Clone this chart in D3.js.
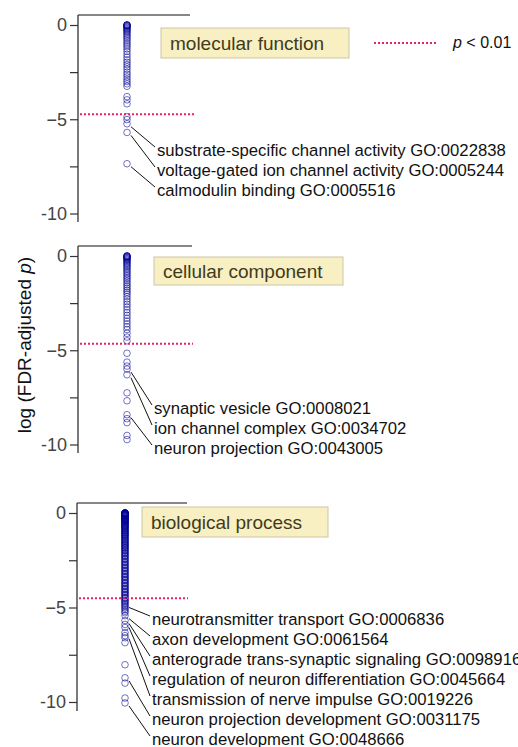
<!DOCTYPE html>
<html><head><meta charset="utf-8">
<script src="https://cdn.jsdelivr.net/npm/d3@7"></script>
<style>
html,body{margin:0;padding:0;background:#fff;}
svg{display:block;font-family:"Liberation Sans",Arial,sans-serif;}
</style></head>
<body><svg id="chart" width="518" height="747"></svg>
<script>
// ---- data ----
const categories = ["molecular function", "cellular component", "biological process"];
const thresholds = [-4.73, -4.66, -4.51];
const tickValues = [0, -2.5, -5, -7.5, -10];
const tickLabels = {"0": "0", "-5": "\u22125", "-10": "-10"};

const mfValues = [0, 0, 0, -0.02, -0.05, -0.08, -0.12, -0.16, -0.2, -0.25, -0.3, -0.36, -0.42, -0.5, -0.58,
  -0.66, -0.75, -0.85, -0.95, -1.05, -1.15, -1.27, -1.4, -1.55, -1.7, -1.85, -1.98, -2.1, -2.22, -2.35,
  -2.5, -2.62, -2.75, -2.88, -3.0, -3.12, -3.25, -3.8, -3.97, -4.18, -4.87, -5.02, -5.24, -5.7, -7.36];
const ccValues = [0, 0, 0, -0.02, -0.05, -0.08, -0.1, -0.14, -0.18, -0.22, -0.27, -0.32, -0.38, -0.44, -0.5,
  -0.57, -0.64, -0.72, -0.8, -0.88, -0.96, -1.05, -1.14, -1.23, -1.32, -1.42, -1.52, -1.62, -1.72, -1.82,
  -1.92, -2.02, -2.15, -2.28, -2.42, -2.56, -2.7, -2.85, -3.0, -3.15, -3.3, -3.45, -3.6, -3.75, -3.9, -4.1,
  -4.3, -4.5, -5.16, -5.63, -5.84, -6.0, -6.3, -7.26, -7.68, -8.42, -8.63, -8.84, -9.52, -9.74];
const bpValues = [0, 0, 0, 0, 0, 0, -0.01, -0.02, -0.03, -0.04, -0.05, -0.06, -0.07, -0.08, -0.09, -0.1,
  -0.11, -0.12, -0.13, -0.15, -0.16, -0.18, -0.2, -0.21, -0.24, -0.26, -0.27, -0.3, -0.32, -0.33, -0.36,
  -0.38, -0.39, -0.42, -0.44, -0.45, -0.49, -0.51, -0.53, -0.57, -0.59, -0.61, -0.65, -0.67, -0.69, -0.73,
  -0.75, -0.77, -0.82, -0.85, -0.87, -0.92, -0.95, -0.97, -1.02, -1.05, -1.07, -1.12, -1.15, -1.17, -1.22,
  -1.25, -1.28, -1.34, -1.37, -1.4, -1.46, -1.49, -1.52, -1.58, -1.61, -1.64, -1.7, -1.73, -1.76, -1.82,
  -1.85, -1.88, -1.95, -1.98, -2.02, -2.09, -2.12, -2.16, -2.23, -2.27, -2.3, -2.38, -2.42, -2.46, -2.54,
  -2.58, -2.62, -2.7, -2.74, -2.78, -2.86, -2.9, -2.94, -3.02, -3.06, -3.1, -3.18, -3.22, -3.26, -3.34,
  -3.38, -3.42, -3.5, -3.54, -3.58, -3.66, -3.7, -3.74, -3.82, -3.86, -3.9, -3.98, -4.02, -4.06, -4.14,
  -4.18, -4.22, -4.3, -4.34, -4.38, -4.46, -4.5, -4.54, -4.62, -4.66, -4.7, -4.78, -4.84, -4.9, -4.97,
  -5.04, -5.12, -5.2, -5.28, -5.43, -5.69, -5.9, -6.06, -6.33, -6.49, -6.6, -6.86, -8.03, -8.72, -9.0,
  -9.79, -10.05];

const mfTerms = ["substrate-specific channel activity GO:0022838", "voltage-gated ion channel activity GO:0005244",
  "calmodulin binding GO:0005516"];
const mfTermValues = [-5.24, -5.7, -7.36];
const ccTerms = ["synaptic vesicle GO:0008021", "ion channel complex GO:0034702", "neuron projection GO:0043005"];
const ccTermValues = [-6.0, -6.3, -8.42];
const bpTerms = ["neurotransmitter transport GO:0006836", "axon development GO:0061564",
  "anterograde trans-synaptic signaling GO:0098916", "regulation of neuron differentiation GO:0045664",
  "transmission of nerve impulse GO:0019226", "neuron projection development GO:0031175",
  "neuron development GO:0048666"];
const bpTermValues = [-4.84, -5.43, -5.69, -5.9, -6.49, -8.72, -10.05];

const legendLabel = "p < 0.01";
const yAxisTitle = "log (FDR-adjusted p)";

// ---- layout ----
const panels = [
  {values: mfValues, terms: mfTerms, termValues: mfTermValues, ax: 78, top: 15, bottom: 222, y0: 25, y10: 213.5,
   px: 127, topEnd: 190, thEnd: 195, box: {x: 161, y: 28, w: 188, h: 30}, lx: 157, lb: 156},
  {values: ccValues, terms: ccTerms, termValues: ccTermValues, ax: 78, top: 246, bottom: 453, y0: 256, y10: 444.5,
   px: 127, topEnd: 192, thEnd: 193, box: {x: 154, y: 257, w: 189, h: 28}, lx: 154, lb: 414},
  {values: bpValues, terms: bpTerms, termValues: bpTermValues, ax: 77, top: 503, bottom: 711, y0: 513, y10: 702,
   px: 125, topEnd: 187, thEnd: 188, box: {x: 142, y: 507, w: 186, h: 30}, lx: 152, lb: 625}
];
const lineGap = 20;

const svg = d3.select("#chart");

panels.forEach((p, i) => {
  const y = d3.scaleLinear().domain([0, -10]).range([p.y0, p.y10]);
  const g = svg.append("g");

  g.append("line").attr("x1", p.ax).attr("x2", p.topEnd).attr("y1", p.top).attr("y2", p.top)
    .attr("stroke", "#111").attr("stroke-width", 1.2);

  const axis = d3.axisLeft(y).tickValues(tickValues)
    .tickFormat(d => tickLabels[String(d)] || "").tickSize(8).tickPadding(3).tickSizeOuter(0);
  const ag = g.append("g").attr("transform", `translate(${p.ax},0)`).call(axis);
  ag.select(".domain").remove();
  ag.selectAll(".tick line").attr("stroke", "#333").attr("stroke-width", 1.2);
  ag.selectAll(".tick text").attr("fill", "#444").attr("font-size", 18)
    .attr("font-family", "'Liberation Sans', Arial, sans-serif");
  g.append("line").attr("x1", p.ax).attr("x2", p.ax).attr("y1", p.top).attr("y2", p.bottom)
    .attr("stroke", "#333").attr("stroke-width", 1.3);

  g.append("g").selectAll("circle").data(p.values).join("circle")
    .attr("cx", p.px).attr("cy", d => y(d)).attr("r", 3.3)
    .attr("fill", "none").attr("stroke", "#000094").attr("stroke-opacity", 0.55).attr("stroke-width", 1);

  g.append("line").attr("x1", p.ax + 2).attr("x2", p.thEnd)
    .attr("y1", y(thresholds[i])).attr("y2", y(thresholds[i]))
    .attr("stroke", "#e8226a").attr("stroke-width", 2).attr("stroke-dasharray", "2,2");

  g.append("rect").attr("x", p.box.x).attr("y", p.box.y).attr("width", p.box.w).attr("height", p.box.h)
    .attr("fill", "#f8efc2").attr("stroke", "#cdc6a4").attr("stroke-width", 1);
  g.append("text").attr("x", p.box.x + 9).attr("y", p.box.y + p.box.h / 2 + 6.5)
    .attr("font-size", 19).attr("fill", "#3f3b1c").text(categories[i]);

  p.terms.forEach((t, k) => {
    const by = p.lb + k * lineGap;
    g.append("line").attr("x1", p.px + 4).attr("y1", y(p.termValues[k]) + 3)
      .attr("x2", p.lx - 2).attr("y2", by - 9).attr("stroke", "#111").attr("stroke-width", 1);
    g.append("text").attr("x", p.lx).attr("y", by).attr("font-size", 16.7).attr("fill", "#111").text(t);
  });
});

svg.append("line").attr("x1", 374).attr("x2", 438).attr("y1", 43).attr("y2", 43)
  .attr("stroke", "#e8226a").attr("stroke-width", 2).attr("stroke-dasharray", "2,2");
const lt = svg.append("text").attr("x", 453).attr("y", 48).attr("font-size", 16).attr("fill", "#111");
lt.append("tspan").attr("font-style", "italic").text(legendLabel.slice(0, 1));
lt.append("tspan").text(legendLabel.slice(1));

const yt = svg.append("text").attr("transform", "translate(31,345) rotate(-90)")
  .attr("text-anchor", "middle").attr("font-size", 19).attr("fill", "#111");
yt.append("tspan").text(yAxisTitle.slice(0, yAxisTitle.length - 2));
yt.append("tspan").attr("font-style", "italic").text(yAxisTitle.slice(-2, -1));
yt.append("tspan").text(yAxisTitle.slice(-1));
</script></body></html>
